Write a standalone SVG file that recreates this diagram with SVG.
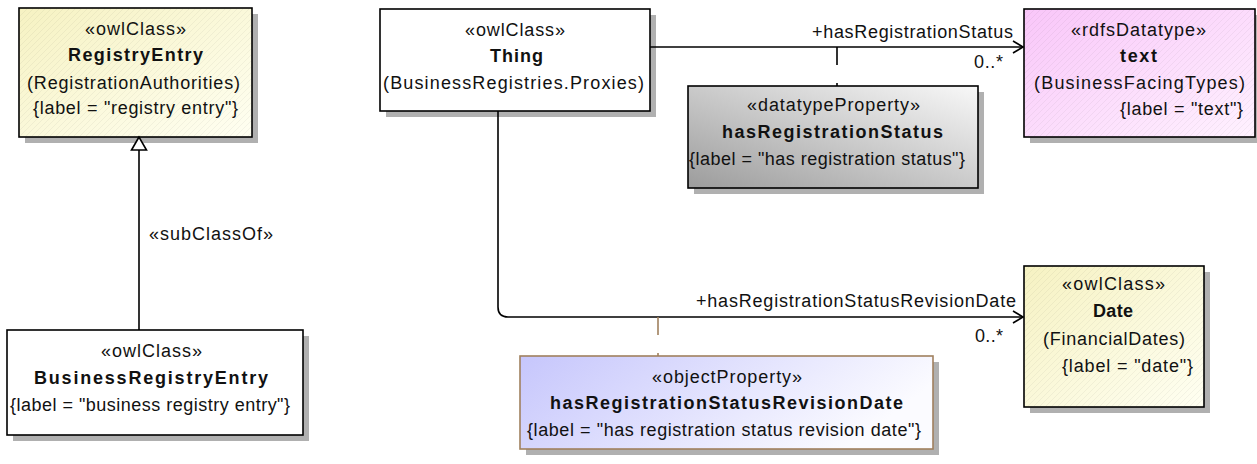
<svg xmlns="http://www.w3.org/2000/svg" width="1257" height="464" viewBox="0 0 1257 464">
<style>
text{font-family:"Liberation Sans",Arial,sans-serif;font-size:18px;fill:#111;}
.b{font-weight:bold;}
.box{stroke:#000;stroke-width:1.6;}
.sh{fill:#b0b0b0;}
.con{fill:none;stroke:#000;stroke-width:1.6;}
</style>
<defs>
<linearGradient id="gY" x1="0" y1="0" x2="1" y2="1">
<stop offset="0" stop-color="#f6f2c2"/><stop offset="1" stop-color="#fffff2"/>
</linearGradient>
<linearGradient id="gP" x1="0" y1="0" x2="1" y2="1">
<stop offset="0" stop-color="#f9c6f9"/><stop offset="1" stop-color="#fff2ff"/>
</linearGradient>
<linearGradient id="gG" x1="0" y1="1" x2="1" y2="0">
<stop offset="0" stop-color="#9c9c9c"/><stop offset="1" stop-color="#f8f8f8"/>
</linearGradient>
<linearGradient id="gB" x1="0" y1="0" x2="1" y2="0.3">
<stop offset="0" stop-color="#c6c6fc"/><stop offset="1" stop-color="#fbfbff"/>
</linearGradient>
<pattern id="hatch" patternUnits="userSpaceOnUse" width="6" height="6">
<path d="M0,6 L6,0" stroke="#000" stroke-opacity="0.06" stroke-width="0.8"/>
</pattern>
<marker id="open" markerWidth="14" markerHeight="14" refX="11" refY="7" orient="auto" markerUnits="userSpaceOnUse">
<path d="M1,1 L11,7 L1,13" fill="none" stroke="#000" stroke-width="1.6"/>
</marker>
</defs>

<g id="node-RegistryEntry">
<rect class="sh" x="25" y="14" width="233" height="129"/>
<rect class="box" x="19" y="8" width="233" height="129" fill="url(#gY)"/>
<rect x="20" y="9" width="231" height="127" fill="url(#hatch)"/>
<text x="85" y="35" textLength="101" lengthAdjust="spacing">«owlClass»</text>
<text class="b" x="68" y="61" textLength="135" lengthAdjust="spacing">RegistryEntry</text>
<text x="27" y="89" textLength="213" lengthAdjust="spacing">(RegistrationAuthorities)</text>
<text x="33" y="114" textLength="205" lengthAdjust="spacing">{label = "registry entry"}</text>
</g>

<g id="node-Thing">
<rect class="sh" x="386" y="15" width="270" height="102"/>
<rect class="box" x="380" y="9" width="270" height="102" fill="#fff"/>
<text x="465" y="36" textLength="100" lengthAdjust="spacing">«owlClass»</text>
<text class="b" x="490" y="62" textLength="53" lengthAdjust="spacing">Thing</text>
<text x="383" y="89" textLength="261" lengthAdjust="spacing">(BusinessRegistries.Proxies)</text>
</g>

<g id="node-hasRegistrationStatus">
<rect class="sh" x="694" y="92" width="290" height="102"/>
<rect class="box" x="688" y="86" width="290" height="102" fill="url(#gG)"/>
<text x="747" y="111" textLength="173" lengthAdjust="spacing">«datatypeProperty»</text>
<text class="b" x="722" y="138" textLength="221" lengthAdjust="spacing">hasRegistrationStatus</text>
<text x="689" y="165" textLength="276" lengthAdjust="spacing">{label = "has registration status"}</text>
</g>

<g id="node-text">
<rect class="sh" x="1030" y="15" width="231" height="128"/>
<rect class="box" x="1024" y="9" width="231" height="128" fill="url(#gP)"/>
<rect x="1025" y="10" width="229" height="126" fill="url(#hatch)"/>
<text x="1071" y="36" textLength="135" lengthAdjust="spacing">«rdfsDatatype»</text>
<text class="b" x="1120" y="62" textLength="37" lengthAdjust="spacing">text</text>
<text x="1034" y="89" textLength="211" lengthAdjust="spacing">(BusinessFacingTypes)</text>
<text x="1120" y="115" textLength="123" lengthAdjust="spacing">{label = "text"}</text>
</g>

<g id="node-BusinessRegistryEntry">
<rect class="sh" x="13" y="336" width="296" height="105"/>
<rect class="box" x="7" y="330" width="296" height="105" fill="#fff"/>
<text x="101" y="357" textLength="101" lengthAdjust="spacing">«owlClass»</text>
<text class="b" x="34" y="384" textLength="234" lengthAdjust="spacing">BusinessRegistryEntry</text>
<text x="10" y="411" textLength="280" lengthAdjust="spacing">{label = "business registry entry"}</text>
</g>

<g id="node-hasRegistrationStatusRevisionDate">
<rect class="sh" x="526" y="362" width="413" height="93"/>
<rect x="520" y="356" width="413" height="93" fill="url(#gB)" stroke="#a0805e" stroke-width="1.6"/>
<text x="652" y="383" textLength="150" lengthAdjust="spacing">«objectProperty»</text>
<text class="b" x="550" y="409" textLength="353" lengthAdjust="spacing">hasRegistrationStatusRevisionDate</text>
<text x="527" y="436" textLength="394" lengthAdjust="spacing">{label = "has registration status revision date"}</text>
</g>

<g id="node-Date">
<rect class="sh" x="1030" y="272" width="180" height="141"/>
<rect class="box" x="1024" y="266" width="180" height="141" fill="url(#gY)"/>
<rect x="1025" y="267" width="178" height="139" fill="url(#hatch)"/>
<text x="1062" y="290" textLength="103" lengthAdjust="spacing">«owlClass»</text>
<text class="b" x="1093" y="317" textLength="40" lengthAdjust="spacing">Date</text>
<text x="1043" y="345" textLength="142" lengthAdjust="spacing">(FinancialDates)</text>
<text x="1062" y="372" textLength="131" lengthAdjust="spacing">{label = "date"}</text>
</g>

<g id="connectors">
<path class="con" d="M139,330 L139,150"/>
<path d="M139,137 L131.5,150 L146.5,150 Z" fill="#fff" stroke="#000" stroke-width="1.6"/>
<text x="149" y="240" textLength="124" lengthAdjust="spacing">«subClassOf»</text>

<path class="con" d="M650,47 L1023,47" marker-end="url(#open)"/>
<text x="812" y="38" textLength="201" lengthAdjust="spacing">+hasRegistrationStatus</text>
<text x="974" y="68" textLength="29" lengthAdjust="spacing">0..*</text>
<path d="M837,47 L837,86" fill="none" stroke="#000" stroke-width="1.6" stroke-dasharray="18 18"/>

<path class="con" d="M498,111 L498,307 Q498,317 508,317 L1023,317" marker-end="url(#open)"/>
<text x="696" y="307" textLength="320" lengthAdjust="spacing">+hasRegistrationStatusRevisionDate</text>
<text x="975" y="342" textLength="28" lengthAdjust="spacing">0..*</text>
<path d="M658,317 L658,356" fill="none" stroke="#a0805e" stroke-width="1.6" stroke-dasharray="18 18"/>
</g>
</svg>
